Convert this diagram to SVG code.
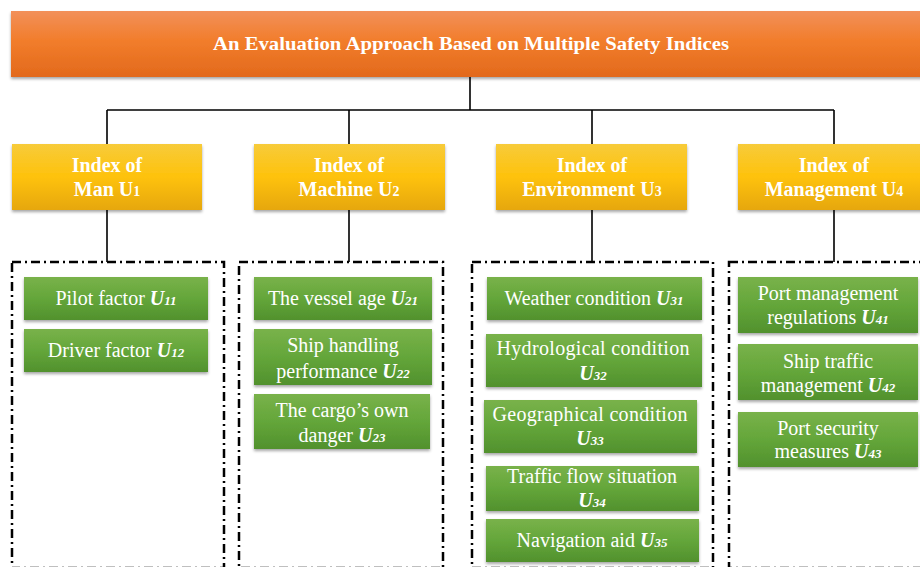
<svg xmlns="http://www.w3.org/2000/svg" width="920" height="567" viewBox="0 0 920 567">
  <defs>
    <linearGradient id="gOrange" x1="0" y1="0" x2="0" y2="1">
      <stop offset="0" stop-color="#f2905a"/>
      <stop offset="0.45" stop-color="#f27d2b"/>
      <stop offset="1" stop-color="#e2691c"/>
    </linearGradient>
    <linearGradient id="gYellow" x1="0" y1="0" x2="0" y2="1">
      <stop offset="0" stop-color="#f7cb3a"/>
      <stop offset="0.5" stop-color="#fec20c"/>
      <stop offset="1" stop-color="#e6a70a"/>
    </linearGradient>
    <linearGradient id="gGreen" x1="0" y1="0" x2="0" y2="1">
      <stop offset="0" stop-color="#79b24a"/>
      <stop offset="0.5" stop-color="#64a63a"/>
      <stop offset="1" stop-color="#51912d"/>
    </linearGradient>
    <filter id="shadow" x="-5%" y="-10%" width="110%" height="130%">
      <feDropShadow dx="0" dy="2" stdDeviation="1.5" flood-color="#000" flood-opacity="0.35"/>
    </filter>
  </defs>
  <style>
    .title { fill: url(#gOrange); filter: url(#shadow); }
    .index { fill: url(#gYellow); filter: url(#shadow); }
    .item { fill: url(#gGreen); filter: url(#shadow); }
    .frame { fill: none; stroke: #000; stroke-width: 2.5; stroke-dasharray: 9 4 2 4; }
    .link { fill: none; stroke: #000; stroke-width: 1.6; }
    text { fill: #fff; font-family: "Liberation Serif", "Times New Roman", serif; text-anchor: middle; }
    .tt { font-size: 19px; font-weight: bold; }
    .it { font-size: 20px; font-weight: bold; }
    .gt { font-size: 20px; }
    .u { font-weight: bold; font-style: italic; }
    .sub { font-size: 13px; font-weight: bold; font-style: italic; }
    .subn { font-size: 14px; font-weight: bold; }
  </style>

  <rect width="920" height="567" fill="#fff"/>

  <!-- connectors -->
  <g id="connectors">
    <path class="link" d="M470 77 V110 M107 110 H834 M107 110 V144 M349 110 V144 M592 110 V144 M834 110 V144"/>
    <path class="link" d="M107 210 V262 M349 210 V262 M592 210 V262 M834 210 V262"/>
  </g>

  <!-- dash-dot frames around each index group -->
  <g id="frames">
    <rect class="frame" x="12" y="262" width="212" height="306"/>
    <rect class="frame" x="239" y="262" width="204" height="306"/>
    <rect class="frame" x="472" y="262" width="241" height="306"/>
    <rect class="frame" x="729" y="262" width="200" height="306"/>
  </g>

  <g id="root">
    <rect class="title" x="11" y="11" width="915" height="66"/>
    <text class="tt" x="471" y="50" textLength="516" lengthAdjust="spacingAndGlyphs">An Evaluation Approach Based on Multiple Safety Indices</text>
  </g>

  <g id="u1">
    <rect class="index" x="12" y="144" width="190" height="66"/>
    <text class="it" x="107" y="172">Index of</text>
    <text class="it" x="107" y="196">Man U<tspan class="subn">1</tspan></text>
  </g>
  <g id="u2">
    <rect class="index" x="254" y="144" width="191" height="66"/>
    <text class="it" x="349" y="172">Index of</text>
    <text class="it" x="349" y="196">Machine U<tspan class="subn">2</tspan></text>
  </g>
  <g id="u3">
    <rect class="index" x="496" y="144" width="191" height="66"/>
    <text class="it" x="592" y="172">Index of</text>
    <text class="it" x="592" y="196">Environment U<tspan class="subn">3</tspan></text>
  </g>
  <g id="u4">
    <rect class="index" x="738" y="144" width="192" height="66"/>
    <text class="it" x="834" y="172">Index of</text>
    <text class="it" x="834" y="196">Management U<tspan class="subn">4</tspan></text>
  </g>

  <!-- U1 items -->
  <g id="u11">
    <rect class="item" x="24" y="277" width="184" height="43"/>
    <text class="gt" x="116" y="305">Pilot factor <tspan class="u">U</tspan><tspan class="sub">11</tspan></text>
  </g>
  <g id="u12">
    <rect class="item" x="24" y="329" width="184" height="43"/>
    <text class="gt" x="116" y="357">Driver factor <tspan class="u">U</tspan><tspan class="sub">12</tspan></text>
  </g>

  <!-- U2 items -->
  <g id="u21">
    <rect class="item" x="254" y="277" width="178" height="43"/>
    <text class="gt" x="343" y="305">The vessel age <tspan class="u">U</tspan><tspan class="sub">21</tspan></text>
  </g>
  <g id="u22">
    <rect class="item" x="254" y="329" width="178" height="56"/>
    <text class="gt" x="343" y="352">Ship handling</text>
    <text class="gt" x="343" y="378">performance <tspan class="u">U</tspan><tspan class="sub">22</tspan></text>
  </g>
  <g id="u23">
    <rect class="item" x="254" y="394" width="176" height="55"/>
    <text class="gt" x="342" y="417">The cargo’s own</text>
    <text class="gt" x="342" y="442">danger <tspan class="u">U</tspan><tspan class="sub">23</tspan></text>
  </g>

  <!-- U3 items -->
  <g id="u31">
    <rect class="item" x="487" y="277" width="215" height="43"/>
    <text class="gt" x="594" y="305">Weather condition <tspan class="u">U</tspan><tspan class="sub">31</tspan></text>
  </g>
  <g id="u32">
    <rect class="item" x="486" y="334" width="216" height="53"/>
    <text class="gt" x="593" y="355" textLength="193" lengthAdjust="spacing">Hydrological condition</text>
    <text class="gt" x="593" y="380"><tspan class="u">U</tspan><tspan class="sub">32</tspan></text>
  </g>
  <g id="u33">
    <rect class="item" x="484" y="400" width="213" height="53"/>
    <text class="gt" x="590" y="421" textLength="195" lengthAdjust="spacing">Geographical condition</text>
    <text class="gt" x="590" y="445"><tspan class="u">U</tspan><tspan class="sub">33</tspan></text>
  </g>
  <g id="u34">
    <rect class="item" x="486" y="466" width="213" height="45"/>
    <text class="gt" x="592" y="483">Traffic flow situation</text>
    <text class="gt" x="592" y="507"><tspan class="u">U</tspan><tspan class="sub">34</tspan></text>
  </g>
  <g id="u35">
    <rect class="item" x="486" y="519" width="213" height="43"/>
    <text class="gt" x="592" y="547">Navigation aid <tspan class="u">U</tspan><tspan class="sub">35</tspan></text>
  </g>

  <!-- U4 items -->
  <g id="u41">
    <rect class="item" x="738" y="277" width="180" height="56"/>
    <text class="gt" x="828" y="300">Port management</text>
    <text class="gt" x="828" y="324">regulations <tspan class="u">U</tspan><tspan class="sub">41</tspan></text>
  </g>
  <g id="u42">
    <rect class="item" x="738" y="344" width="180" height="56"/>
    <text class="gt" x="828" y="368">Ship traffic</text>
    <text class="gt" x="828" y="392">management <tspan class="u">U</tspan><tspan class="sub">42</tspan></text>
  </g>
  <g id="u43">
    <rect class="item" x="738" y="412" width="180" height="55"/>
    <text class="gt" x="828" y="435">Port security</text>
    <text class="gt" x="828" y="458">measures <tspan class="u">U</tspan><tspan class="sub">43</tspan></text>
  </g>
</svg>
